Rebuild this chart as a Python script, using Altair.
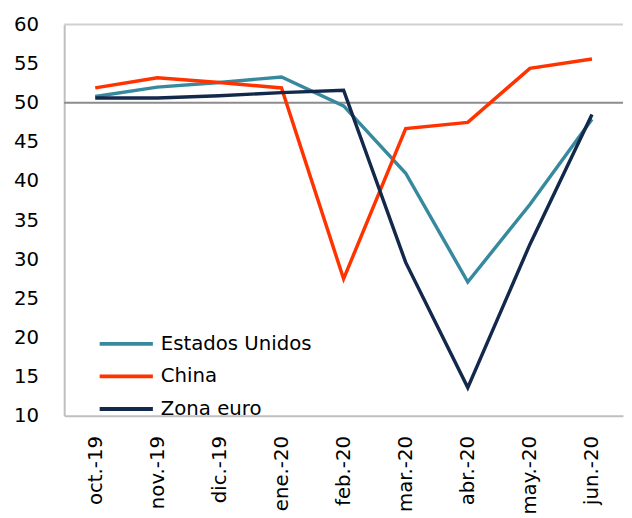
import altair as alt
import pandas as pd

months = ["oct.-19", "nov.-19", "dic.-19", "ene.-20", "feb.-20",
          "mar.-20", "abr.-20", "may.-20", "jun.-20"]
estados_unidos = [50.8, 52.0, 52.6, 53.3, 49.6, 41.0, 27.1, 37.0, 47.9]
china = [51.9, 53.2, 52.6, 51.9, 27.5, 46.7, 47.5, 54.4, 55.6]
zona_euro = [50.6, 50.6, 50.9, 51.3, 51.6, 29.6, 13.6, 31.9, 48.5]
y_ticks = [10, 15, 20, 25, 30, 35, 40, 45, 50, 55, 60]

series = ["Estados Unidos", "China", "Zona euro"]
colors = ["#378A9E", "#FF3300", "#13294B"]

rows = []
for name, vals in zip(series, [estados_unidos, china, zona_euro]):
    for m, v in zip(months, vals):
        rows.append({"mes": m, "serie": name, "valor": v})
df = pd.DataFrame(rows)

FONT = "DejaVu Sans"

x_enc = alt.X("mes:N", sort=months,
              scale=alt.Scale(type="point", padding=0.5),
              axis=alt.Axis(title=None, labelAngle=-90, labelFontSize=20,
                            labelPadding=20, ticks=False, domain=True,
                            domainColor="#BFBFBF", domainWidth=2,
                            labelColor="#000000", labelFont=FONT,
                            labelOverlap=False))
y_scale = alt.Scale(domain=[10, 60], nice=False, zero=False)
y_axis = alt.Axis(title=None, values=y_ticks,
                  grid=False, ticks=False, labelFontSize=20, labelPadding=26,
                  domainColor="#BFBFBF", domainWidth=2, minExtent=51,
                  labelColor="#000000", labelFont=FONT,
                  labelOverlap=False, labelFlush=False)

lines = alt.Chart(df).mark_line(strokeWidth=3.5).encode(
    x=x_enc,
    y=alt.Y("valor:Q", scale=y_scale, axis=y_axis),
    color=alt.Color("serie:N",
                    scale=alt.Scale(domain=series, range=colors),
                    sort=series,
                    legend=alt.Legend(title=None, orient="none", legendX=44, legendY=305,
                                      symbolType="M-1.6,0H1.6", symbolSize=1139,
                                      symbolStrokeWidth=4, labelFontSize=20,
                                      labelFont=FONT, labelColor="#000000",
                                      rowPadding=4, labelOffset=16)),
)

rule50 = alt.Chart(pd.DataFrame({"v": [50]})).mark_rule(color="#8C8C8C", strokeWidth=2).encode(
    y=alt.Y("v:Q", scale=y_scale, axis=y_axis))
rule60 = alt.Chart(pd.DataFrame({"v": [60]})).mark_rule(color="#D0D0D0", strokeWidth=2).encode(
    y=alt.Y("v:Q", scale=y_scale, axis=y_axis))

chart = alt.layer(rule60, rule50, lines).properties(
    width=567, height=397,
    padding={"left": 5, "top": 3, "right": 0, "bottom": 5},
).configure_view(stroke=None)

chart.save("out.html", embed_options={"renderer": "svg", "actions": False})
